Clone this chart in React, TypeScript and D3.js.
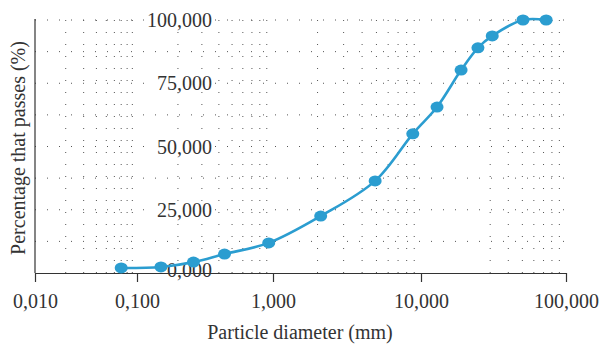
import React, { useRef, useEffect } from 'react';
import * as d3 from 'd3';

// Sieve sizes (mm) and percentage passing.
const diameters = [0.07, 0.15, 0.26, 0.44, 0.93, 2.1, 4.9, 8.8, 12.9, 18.9, 24.7, 31, 50.5, 73];
const passing = [2.0, 2.4, 4.3, 7.5, 11.9, 22.5, 36.4, 55, 65.6, 80.2, 89, 93.7, 100, 100];

const xTicks = [0.01, 0.1, 1, 10, 100];
const yTicks = [0, 25, 50, 75, 100];
const yGrid = [12.5, 25, 37.5, 50, 62.5, 75, 87.5, 100];

const lineColor = '#2b9dd0';
const font = '"Liberation Serif", "DejaVu Serif", serif';

const App = () => {
  const ref = useRef<SVGSVGElement>(null);

  useEffect(() => {
    d3.select(ref.current).selectAll('*').remove();

    const width = 600;
    const height = 346;
    const svg = d3.select(ref.current).attr('width', width).attr('height', height);

    // The decades are not quite equal in the original, so the log scale is piecewise.
    const x = d3.scaleLog().domain(xTicks).range([35, 137, 273, 421, 566]);
    const y = d3.scaleLinear().domain([0, 100]).range([273, 20]);

    const comma = (v: number) => d3.format('.3f')(v).replace('.', ',');

    // Dotted horizontal grid.
    svg.append('g')
      .selectAll('line')
      .data(yGrid)
      .join('line')
      .attr('x1', x(0.01)).attr('x2', x(100))
      .attr('y1', d => y(d)).attr('y2', d => y(d))
      .attr('stroke', '#555')
      .attr('stroke-width', 1)
      .attr('stroke-dasharray', '1,11');

    // Dotted vertical minor grid.
    const minor: number[] = [];
    [0.01, 0.1, 1, 10].forEach(dec => {
      for (let k = 2; k <= 9; k++) {
        if (dec === 10 && k === 2) continue;
        minor.push(dec * k);
      }
    });
    svg.append('g')
      .selectAll('line')
      .data(minor)
      .join('line')
      .attr('x1', d => x(d)).attr('x2', d => x(d))
      .attr('y1', y(0)).attr('y2', y(100))
      .attr('stroke', '#555')
      .attr('stroke-width', 1)
      .attr('stroke-dasharray', '1,11');

    // Y tick labels sit inside the plot, with a white box behind them.
    const yLab = svg.append('g');
    yTicks.forEach(t => {
      const txt = yLab.append('text')
        .attr('x', 212)
        .attr('y', y(t) - (t === 0 ? 3 : 0))
        .attr('dy', '0.35em')
        .attr('text-anchor', 'end')
        .attr('font-family', font)
        .attr('font-size', 20)
        .attr('fill', '#333')
        .text(comma(t));
      const bb = (txt.node() as SVGTextElement).getBBox();
      yLab.insert('rect', () => txt.node())
        .attr('x', bb.x - 2).attr('y', bb.y + 3)
        .attr('width', bb.width + 4).attr('height', bb.height - 6)
        .attr('fill', '#fff');
    });

    // Axes.
    const xAxis = svg.append('g')
      .attr('transform', `translate(0,${y(0)})`)
      .call(d3.axisBottom(x).tickValues(xTicks).tickFormat(d => comma(+d)).tickSize(9).tickSizeOuter(0).tickPadding(12));
    xAxis.select('.domain').attr('stroke', '#333').attr('stroke-width', 1.2);
    xAxis.selectAll('.tick line').attr('stroke', '#333').attr('stroke-width', 1.2);
    xAxis.selectAll('.tick text')
      .attr('font-family', font)
      .attr('font-size', 20)
      .attr('fill', '#333');

    svg.append('line')
      .attr('x1', x(0.01)).attr('x2', x(0.01))
      .attr('y1', y(100) - 1).attr('y2', y(0))
      .attr('stroke', '#333')
      .attr('stroke-width', 1.2);

    // Data curve and markers.
    const pts = diameters.map((d, i) => [x(d), y(passing[i])] as [number, number]);
    svg.append('path')
      .attr('d', d3.line().curve(d3.curveCatmullRom.alpha(0.5))(pts))
      .attr('fill', 'none')
      .attr('stroke', lineColor)
      .attr('stroke-width', 2.6);

    svg.append('g')
      .selectAll('ellipse')
      .data(pts)
      .join('ellipse')
      .attr('cx', d => d[0]).attr('cy', d => d[1])
      .attr('rx', 6.5).attr('ry', 5.5)
      .attr('fill', lineColor);

    // Axis titles.
    svg.append('text')
      .attr('x', 300).attr('y', 339)
      .attr('text-anchor', 'middle')
      .attr('font-family', font)
      .attr('font-size', 20)
      .attr('fill', '#333')
      .text('Particle diameter (mm)');

    svg.append('text')
      .attr('transform', 'translate(25,148) rotate(-90)')
      .attr('text-anchor', 'middle')
      .attr('font-family', font)
      .attr('font-size', 20)
      .attr('fill', '#333')
      .text('Percentage that passes (%)');
  }, []);

  return <svg ref={ref} style={{ position: 'absolute', left: 0, top: 0 }}></svg>;
};

export default App;
